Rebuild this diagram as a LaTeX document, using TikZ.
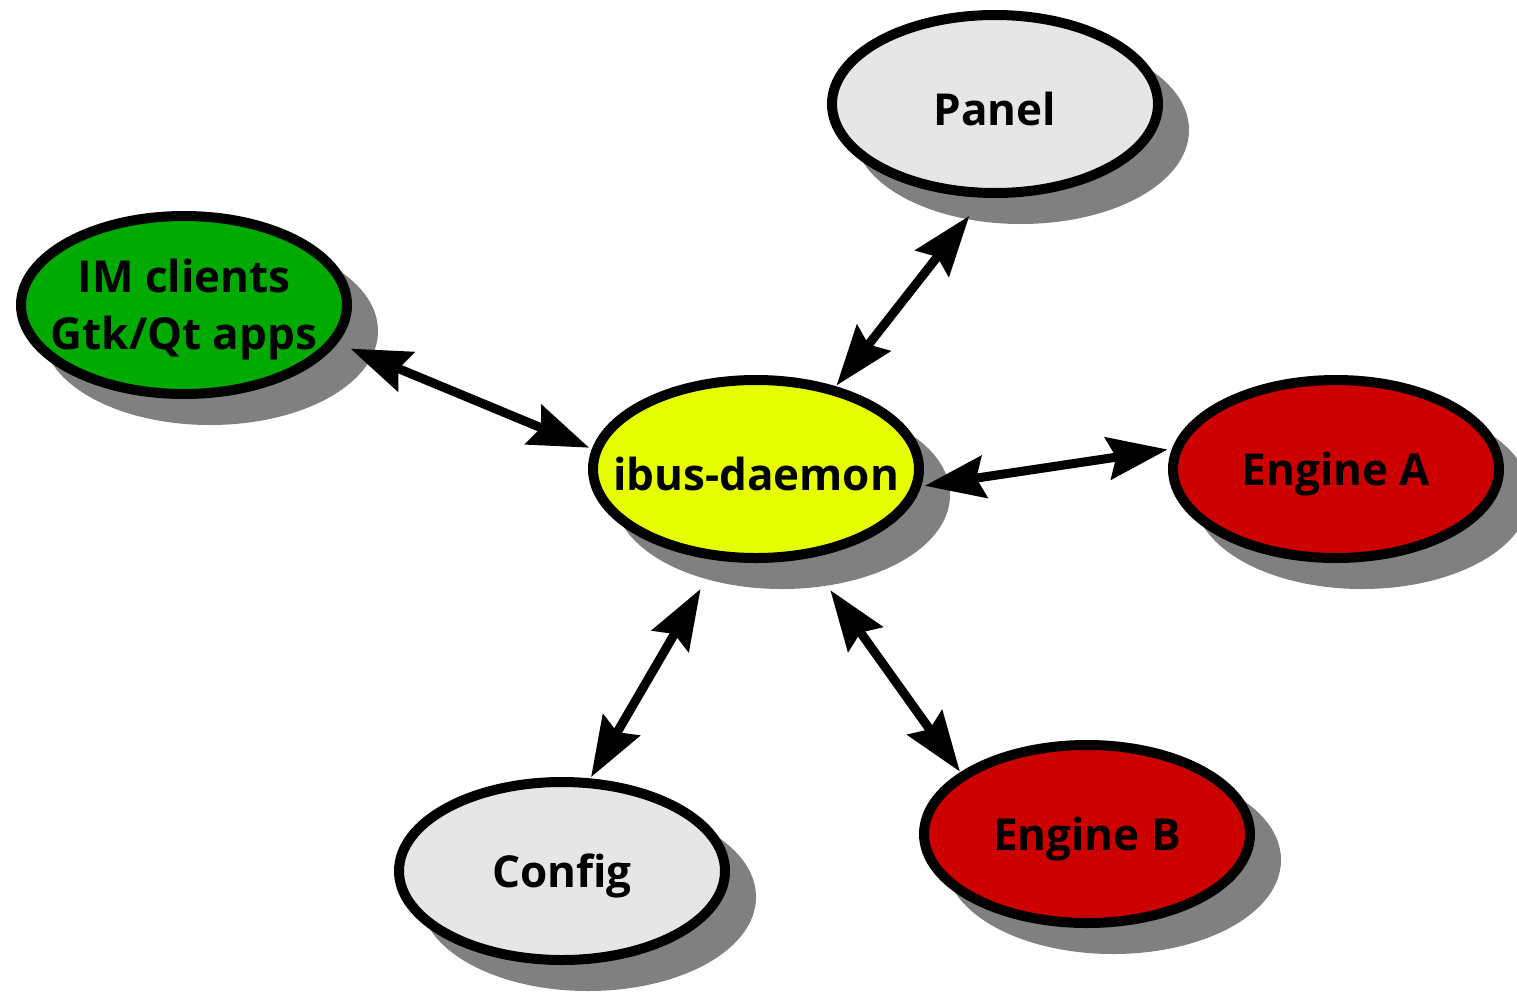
\documentclass[tikz,border=0pt]{standalone}
\usepackage{fontspec}
\setmainfont{Open Sans}
\usetikzlibrary{positioning, arrows.meta, shapes.geometric, shadows}

\definecolor{lightgray}{HTML}{E6E6E6}
\definecolor{imgreen}{HTML}{00AA00}
\definecolor{daemonyellow}{HTML}{E6FF00}
\definecolor{enginered}{HTML}{CC0000}
\definecolor{shadowgray}{HTML}{808080}

\begin{document}
\begin{tikzpicture}[x=1pt, y=-1pt,
  comp/.style={ellipse, draw, line width=10pt, minimum width=326pt, minimum height=178pt, inner sep=0pt,
    drop shadow={shadow xshift=26pt, shadow yshift=-26pt, fill=shadowgray, draw=shadowgray, line width=10pt, opacity=1}},
  link/.style={{Stealth[length=60pt, width=42pt, inset=8pt]}-{Stealth[length=60pt, width=42pt, inset=8pt]}, line width=9pt},
  every label/.append style={font=\fontsize{44}{57}\selectfont\bfseries, align=center, yshift=-5pt}]
  \useasboundingbox (0,0) rectangle (1517,991);

  \node[comp, fill=lightgray, label=center:Panel] (panel) at (995,104) {};
  \node[comp, fill=imgreen, label={center:IM clients\\Gtk/Qt apps}] (clients) at (184,305) {};
  \node[comp, fill=daemonyellow, label=center:ibus-daemon] (daemon) at (756,469) {};
  \node[comp, fill=enginered, label=center:Engine A] (enginea) at (1336,469) {};
  \node[comp, fill=enginered, label=center:Engine B] (engineb) at (1087,834) {};
  \node[comp, fill=lightgray, label=center:Config] (config) at (562,871) {};

  \draw[link, shorten <=14pt, shorten >=3pt] (clients.-14) -- (daemon.173);
  \draw[link, shorten <=1pt, shorten >=23pt] (daemon.46.7) -- (panel.-97.7);
  \draw[link, shorten <=3.7pt, shorten >=4.3pt] (daemon.-6.8) -- (enginea.173.5);
  \draw[link, shorten <=33pt, shorten >=1.4pt] (daemon.-113.8) -- (config.73.6);
  \draw[link, shorten <=39pt, shorten >=0.8pt] (daemon.-60.1) -- (engineb.154.1);
\end{tikzpicture}
\end{document}
